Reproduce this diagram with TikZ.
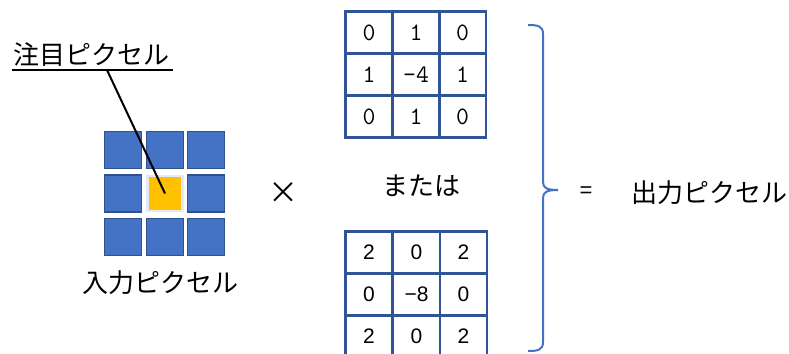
\documentclass[tikz,border=0pt]{standalone}
\usepackage{fontspec}
\setmainfont{Liberation Sans}
\newfontfamily\cjk{Noto Sans CJK JP}
\definecolor{pixblue}{HTML}{4472C4}
\definecolor{pixedge}{HTML}{2F528F}
\definecolor{pixyellow}{HTML}{FFC000}
\definecolor{kedge}{HTML}{2F5597}
\tikzset{
  pix/.style={draw=pixedge, fill=pixblue, line width=1.5bp, minimum width=37bp, minimum height=37bp, inner sep=0pt},
  pixc/.style={draw=white!85!pixblue, fill=pixyellow, line width=2.5bp, minimum width=35bp, minimum height=35bp, inner sep=0pt},
  kcell/.style={draw=kedge, line width=2.5bp, minimum width=47bp, minimum height=42bp, inner sep=0pt},
  jp/.style={font=\cjk\fontsize{26bp}{30bp}\selectfont, inner sep=0pt},
  tnum/.style={font=\ttfamily\fontsize{25bp}{29bp}\selectfont},
  snum/.style={font=\fontsize{21bp}{25bp}\selectfont},
  brace/.style={draw=pixblue, line width=2bp},
}
\begin{document}
\begin{tikzpicture}[x=1bp,y=-1bp]
\useasboundingbox (0,0) rectangle (789,353);
% input pixels
\node[pix] (p11) at (123,150) {};
\node[pix] (p12) at (165,150) {};
\node[pix] (p13) at (206,150) {};
\node[pix] (p21) at (123,193.5) {};
\node[pixc] (p22) at (165,193.5) {};
\node[pix] (p23) at (206,193.5) {};
\node[pix] (p31) at (123,237) {};
\node[pix] (p32) at (165,237) {};
\node[pix] (p33) at (206,237) {};
% labels
\node[jp] (focus) at (91.5,55) {注目ピクセル};
\coordinate (ulL) at (12,70);
\coordinate (ulR) at (173,70);
\coordinate (ptr) at (107,70);
\draw[line width=1.5bp] (ulL) -- (ulR);
\draw[line width=2bp] (ptr) -- (p22.center);
\node[jp] (inp) at (160,283) {入力ピクセル};
\node[font=\cjk\fontsize{30bp}{34bp}\selectfont, inner sep=0pt] (times) at (283,193) {×};
\node[jp] (or) at (421,186) {または};
% top kernel
\node[kcell, tnum] (a11) at (369,32.5) {0};
\node[kcell, tnum] (a12) at (416,32.5) {1};
\node[kcell, tnum] (a13) at (462.5,32.5) {0};
\node[kcell, tnum] (a21) at (369,74.5) {1};
\node[kcell, tnum] (a22) at (416,74.5) {-4};
\node[kcell, tnum] (a23) at (462.5,74.5) {1};
\node[kcell, tnum] (a31) at (369,116.5) {0};
\node[kcell, tnum] (a32) at (416,116.5) {1};
\node[kcell, tnum] (a33) at (462.5,116.5) {0};
% bottom kernel
\node[kcell, snum] (b11) at (369,252.5) {2};
\node[kcell, snum] (b12) at (416.5,252.5) {0};
\node[kcell, snum] (b13) at (463.5,252.5) {2};
\node[kcell, snum] (b21) at (369,294.5) {0};
\node[kcell, snum] (b22) at (416.5,294.5) {−8};
\node[kcell, snum] (b23) at (463.5,294.5) {0};
\node[kcell, snum] (b31) at (369,336.5) {2};
\node[kcell, snum] (b32) at (416.5,336.5) {0};
\node[kcell, snum] (b33) at (463.5,336.5) {2};
% brace
\coordinate (bt) at (528,25);
\coordinate (bm) at (558,190);
\coordinate (bb) at (528,351);
\draw[brace] (bt) .. controls (538,25) and (543,26) .. (543,34) -- (543,182)
  .. controls (543,188) and (547,190) .. (bm)
  .. controls (547,190) and (543,192) .. (543,198) -- (543,342)
  .. controls (543,350) and (538,351) .. (bb);
\node[font=\fontsize{22bp}{26bp}\selectfont, inner sep=0pt] (eq) at (586,192) {=};
\node[jp] (out) at (709.5,193) {出力ピクセル};
\end{tikzpicture}
\end{document}
